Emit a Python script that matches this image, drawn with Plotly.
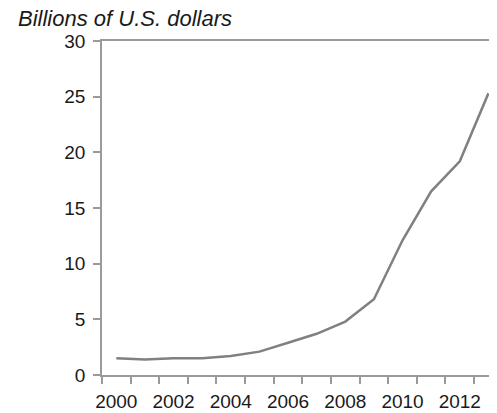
import plotly.graph_objects as go

years = [2000, 2001, 2002, 2003, 2004, 2005, 2006, 2007, 2008, 2009, 2010, 2011, 2012, 2013]
values = [1.5, 1.4, 1.5, 1.5, 1.7, 2.1, 2.9, 3.7, 4.8, 6.8, 12.1, 16.5, 19.2, 25.3]
x_tick_labels = [2000, 2002, 2004, 2006, 2008, 2010, 2012]
y_ticks = [0, 5, 10, 15, 20, 25, 30]
title_text = "Billions of U.S. dollars"

axis_color = "#9a9a9a"
font_family = "Liberation Sans, Arial, sans-serif"

fig = go.Figure()
fig.add_trace(go.Scatter(
    x=years, y=values, mode="lines",
    line=dict(color="#808080", width=2.5),
    showlegend=False, hoverinfo="skip",
))

# the page body has an 8px default margin, so the figure is offset by 8px
OFF = 8
W, H = 497 - OFF, 413 - OFF
fig.update_layout(
    width=W, height=H,
    margin=dict(l=102 - OFF, r=0, t=41 - OFF, b=38, autoexpand=False),
    paper_bgcolor="white", plot_bgcolor="white",
    font=dict(family=font_family, color="#1a1a1a", size=19),
    title=dict(
        text=f"<i>{title_text}</i>",
        x=(18 - OFF) / W, xref="container", xanchor="left",
        y=1 - (18.5 - OFF) / H, yref="container", yanchor="middle",
        font=dict(size=22, family=font_family, color="#1a1a1a"),
    ),
    xaxis=dict(
        range=[1999.5, 2013.3],
        tickmode="array", tickvals=x_tick_labels,
        ticktext=[str(v) for v in x_tick_labels],
        ticks="", showgrid=False, zeroline=False,
        showline=True, linecolor=axis_color, linewidth=1.5, mirror=True,
        minor=dict(tick0=1999.5, dtick=1, ticks="outside", ticklen=7,
                   tickcolor=axis_color, tickwidth=1.5, showgrid=False),
        tickfont=dict(size=19),
        ticklabelstandoff=8,
    ),
    yaxis=dict(
        range=[0, 30],
        tickmode="array", tickvals=y_ticks,
        ticks="outside", ticklen=7, tickcolor=axis_color, tickwidth=1.5,
        showgrid=False, zeroline=False,
        showline=True, linecolor=axis_color, linewidth=1.5,
        tickfont=dict(size=19),
        ticklabelstandoff=4,
    ),
)

fig.write_html("out.html")
